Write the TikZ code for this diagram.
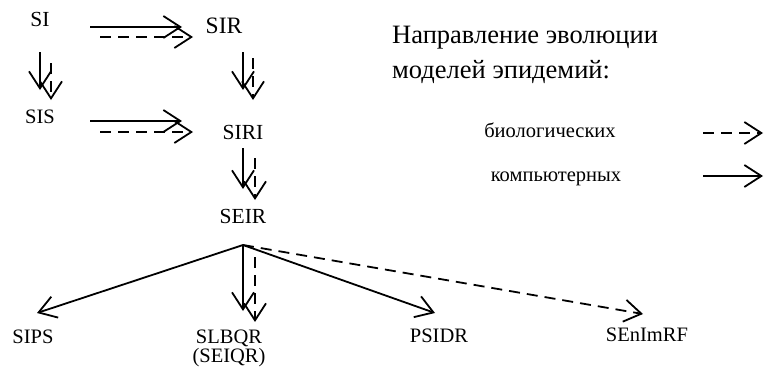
\documentclass[tikz,border=0pt]{standalone}
\usepackage{fontspec}
\setmainfont{Liberation Serif}
\usetikzlibrary{arrows.meta}
\begin{document}
\begin{tikzpicture}[x=1pt,y=-1pt,
  lbl/.style={inner sep=0pt,anchor=base,font=\fontsize{20.5}{24}\selectfont},
  big/.style={lbl,font=\fontsize{21.5}{25}\selectfont},
  leg/.style={inner sep=0pt,anchor=base,font=\fontsize{20.5}{24}\selectfont},
  sarrow/.style={line width=1.8pt,-{Straight Barb[length=17pt,width=22pt,line width=1.8pt]}},
  darrow/.style={sarrow,dash pattern=on 11pt off 7pt}]
\useasboundingbox (0,0) rectangle (764,372);
% nodes
\node[big] (si) at (40,27) {SI};
\node[big,font=\fontsize{23.5}{27}\selectfont] (sir) at (224,33) {SIR};
\node[lbl] (sis) at (40,123) {SIS};
\node[big] (siri) at (243,139) {SIRI};
\node[big] (seir) at (243,223) {SEIR};
\node[lbl] (sips) at (33,343) {SIPS};
\node[inner sep=0pt,anchor=north,align=center,font=\fontsize{20.5}{17}\selectfont] (slbqr) at (229,330) {SLBQR\\(SEIQR)};
\node[lbl] (psidr) at (439,342) {PSIDR};
\node[lbl] (senimrf) at (647,341) {SEnImRF};
\node[inner sep=0pt,anchor=north west,align=left,font=\fontsize{26.5}{35}\selectfont] (head) at (392,25.5) {Направление эволюции\\моделей эпидемий:};
\node[leg] (bio) at (550,137) {биологических};
\node[leg] (comp) at (556,181) {компьютерных};
% coordinates
\coordinate (a1) at (90,27);  \coordinate (a2) at (182,27);
\coordinate (b1) at (100,37); \coordinate (b2) at (193,37);
\coordinate (c1) at (40,52);  \coordinate (c2) at (40,90);
\coordinate (d1) at (51,63);  \coordinate (d2) at (51,100);
\coordinate (e1) at (243,52); \coordinate (e2) at (243,90);
\coordinate (f1) at (253,58); \coordinate (f2) at (253,100);
\coordinate (g1) at (90,121); \coordinate (g2) at (182,121);
\coordinate (h1) at (100,132); \coordinate (h2) at (193,132);
\coordinate (i1) at (243,148); \coordinate (i2) at (243,189);
\coordinate (j1) at (255,158); \coordinate (j2) at (255,200);
\coordinate (br) at (243,245);
\coordinate (k2) at (37,313);
\coordinate (l2) at (243,311);
\coordinate (m1) at (255,257); \coordinate (m2) at (255,322);
\coordinate (n2) at (435,313);
\coordinate (o2) at (643,314);
\coordinate (p1) at (703,133); \coordinate (p2) at (763,133);
\coordinate (q1) at (703,176); \coordinate (q2) at (763,176);
% arrows
\draw[sarrow] (a1) -- (a2);
\draw[darrow] (b1) -- (b2);
\draw[sarrow] (c1) -- (c2);
\draw[darrow] (d1) -- (d2);
\draw[sarrow] (e1) -- (e2);
\draw[darrow] (f1) -- (f2);
\draw[sarrow] (g1) -- (g2);
\draw[darrow] (h1) -- (h2);
\draw[sarrow] (i1) -- (i2);
\draw[darrow] (j1) -- (j2);
\draw[sarrow] (br) -- (k2);
\draw[sarrow] (br) -- (l2);
\draw[darrow] (m1) -- (m2);
\draw[sarrow] (br) -- (n2);
\draw[darrow] (br) -- (o2);
\draw[darrow] (p1) -- (p2);
\draw[sarrow] (q1) -- (q2);
\end{tikzpicture}
\end{document}
